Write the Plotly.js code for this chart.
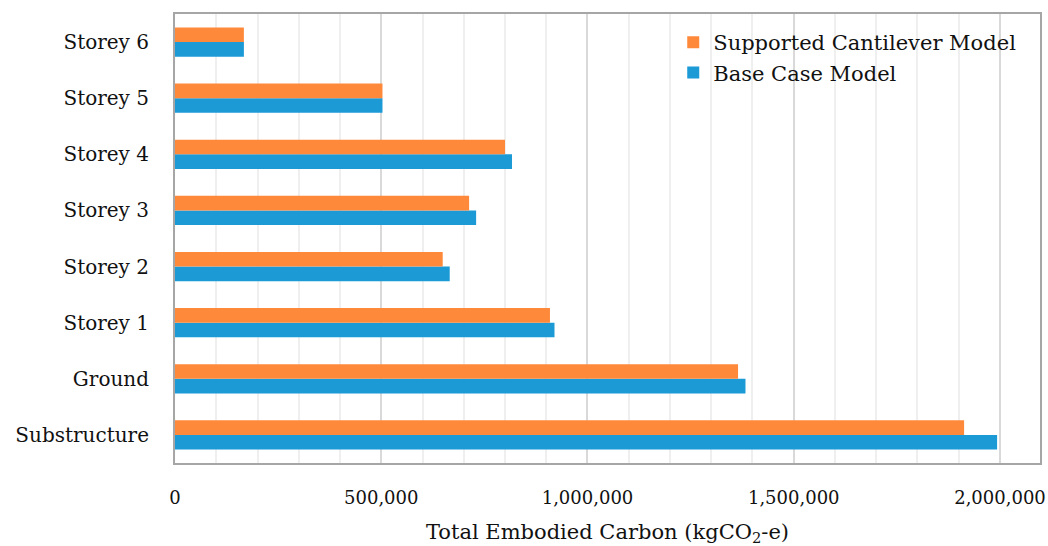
<!DOCTYPE html>
<html>
<head>
<meta charset="utf-8">
<script src="https://cdn.plot.ly/plotly-3.0.1.min.js"></script>
<style>html,body{margin:0;padding:0;background:#fff;}#chart{width:1048px;height:546px;}</style>
</head>
<body>
<div id="chart"></div>
<script>
const categories = ["Substructure", "Ground", "Storey 1", "Storey 2", "Storey 3", "Storey 4", "Storey 5", "Storey 6"];
const baseCase = [1993000, 1383000, 920000, 666000, 730000, 817000, 503000, 167000];
const supportedCantilever = [1913000, 1365000, 909000, 649000, 713000, 800000, 503000, 167000];
const xTickVals = [0, 500000, 1000000, 1500000, 2000000];
const xTickText = ["0", "500,000", "1,000,000", "1,500,000", "2,000,000"];

const font = "'DejaVu Serif', 'Liberation Serif', serif";

const traces = [
  {type: 'bar', orientation: 'h', name: 'Base Case Model', y: categories, x: baseCase,
   marker: {color: '#1B9AD6'}},
  {type: 'bar', orientation: 'h', name: 'Supported Cantilever Model', y: categories, x: supportedCantilever,
   marker: {color: '#FF893B'}}
];

const layout = {
  width: 1048, height: 546,
  margin: {l: 175, r: 8, t: 14, b: 83},
  paper_bgcolor: '#fff', plot_bgcolor: '#fff',
  barmode: 'group', bargap: 0.48, bargroupgap: 0,
  font: {family: font, size: 20, color: '#111'},
  showlegend: true,
  legend: {x: 0.576, y: 0.982, xanchor: 'left', yanchor: 'top', traceorder: 'reversed',
           bgcolor: 'rgba(0,0,0,0)', font: {family: font, size: 21, color: '#111'},
           itemwidth: 30, tracegroupgap: 0},
  xaxis: {range: [0, 2097000], tickvals: xTickVals, ticktext: xTickText,
          showgrid: true, gridcolor: '#d9d9d9', gridwidth: 2,
          minor: {dtick: 100000, showgrid: true, gridcolor: '#efefef', gridwidth: 2},
          showline: true, linecolor: '#a6a6a6', linewidth: 2, mirror: true,
          zeroline: false, ticks: '', ticklabelstandoff: 17, ticklabeloverflow: 'allow',
          tickfont: {family: font, size: 18, color: '#111'},
          title: {text: 'Total Embodied Carbon (kgCO<sub>2</sub>-e)', standoff: 23,
                  font: {family: font, size: 21, color: '#111'}},
          fixedrange: true},
  yaxis: {type: 'category', categoryorder: 'array', categoryarray: categories,
          showgrid: false, showline: true, linecolor: '#a6a6a6', linewidth: 2, mirror: true,
          ticks: '', ticklabelstandoff: 20,
          tickfont: {family: font, size: 20, color: '#111'}, fixedrange: true}
};

Plotly.newPlot('chart', traces, layout, {displayModeBar: false, staticPlot: true});
</script>
</body>
</html>
